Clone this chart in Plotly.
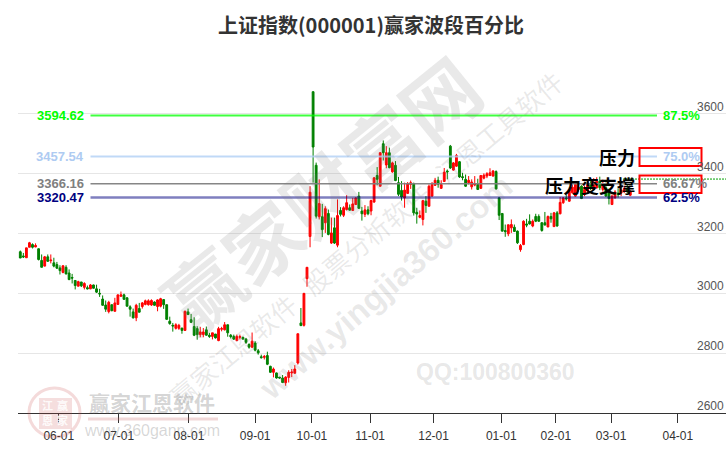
import plotly.graph_objects as go

opens = [3139,3125,3119,3154,3163,3155,3149,3110,3091,3122,
3109,3102,3096,3085,3070,3087,3068,3053,3043,3024,
3038,3020,3019,3015,3028,3015,3000,2981,2961,2939,
2962,2940,2963,2990,2995,2985,2955,2938,2918,2949,
2956,2963,2962,2961,2971,2956,2957,2979,2962,2907,
2893,2883,2883,2884,2876,2938,2912,2889,2882,2862,
2862,2878,2860,2856,2864,2842,2880,2878,2895,2860,
2856,2842,2853,2853,2847,2829,2820,2834,2808,2788,
2786,2792,2756,2736,2734,2720,2717,2701,2719,2734,
2733,2767,2901,2893,3049,3190,3674,3428,3256,3256,
3236,3267,3168,3219,3161,3277,3261,3280,3286,3277,
3297,3325,3275,3264,3279,3275,3305,3394,3358,3500,
3429,3470,3406,3428,3370,3344,3319,3334,3364,3367,
3271,3254,3247,3308,3291,3325,3361,3378,3351,3374,
3409,3492,3412,3425,3440,3390,3381,3370,3356,3362,
3364,3351,3385,3392,3394,3392,3407,3319,3267,3210,
3199,3219,3221,3208,3146,3163,3232,3241,3225,3257,
3257,3236,3236,3222,3257,3223,3269,3266,3303,3319,
3308,3336,3325,3347,3358,3330,3342,3364,3347,3353,
3375,3347,3353,3345,3297,3319,3335,3335,3340,3350,3328]

highs = [3143,3135,3152,3172,3167,3167,3150,3130,3125,3130,
3130,3119,3105,3094,3094,3094,3080,3065,3043,3042,
3038,3037,3026,3031,3029,3029,3015,2993,2976,2975,
2962,2985,2995,3006,2999,2987,2960,2949,2965,2968,
2971,2979,2980,2980,2973,2980,2985,2980,2962,2922,
2901,2900,2898,2884,2942,2949,2931,2920,2890,2888,
2884,2889,2868,2868,2864,2888,2888,2904,2895,2864,
2862,2862,2862,2855,2851,2833,2869,2840,2814,2795,
2794,2805,2758,2752,2735,2720,2727,2723,2743,2747,
2760,2865,2951,3000,3087,3358,3674,3437,3381,3299,
3291,3280,3253,3253,3314,3288,3291,3328,3297,3319,
3321,3339,3289,3295,3291,3313,3389,3422,3472,3511,
3492,3487,3440,3442,3389,3375,3370,3372,3377,3370,
3286,3277,3310,3325,3364,3372,3386,3390,3378,3419,
3414,3496,3439,3466,3442,3403,3397,3392,3381,3392,
3383,3395,3401,3405,3418,3412,3411,3322,3268,3230,
3230,3247,3230,3210,3165,3244,3249,3264,3247,3266,
3264,3238,3272,3260,3269,3272,3275,3322,3322,3330,
3349,3364,3373,3375,3361,3360,3370,3375,3385,3388,
3390,3380,3370,3350,3330,3345,3350,3355,3360,3362,3345]

lows = [3118,3118,3118,3154,3150,3154,3110,3087,3090,3105,
3100,3087,3082,3063,3067,3063,3044,3033,3013,3023,
3021,3013,3013,3014,3016,3001,2988,2959,2938,2933,
2940,2939,2962,2989,2978,2956,2922,2916,2907,2936,
2949,2960,2959,2958,2959,2940,2953,2948,2912,2895,
2872,2879,2878,2865,2875,2929,2901,2857,2845,2853,
2853,2859,2851,2846,2849,2840,2873,2876,2855,2849,
2844,2840,2846,2845,2831,2815,2817,2806,2795,2782,
2779,2760,2734,2719,2715,2715,2700,2691,2702,2720,
2731,2762,2892,2889,3022,3154,3370,3250,3247,3188,
3202,3194,3165,3165,3154,3257,3255,3277,3277,3275,
3295,3283,3243,3255,3261,3261,3303,3361,3357,3444,
3418,3418,3403,3375,3325,3310,3286,3333,3349,3260,
3233,3251,3227,3269,3291,3323,3359,3353,3349,3373,
3381,3416,3410,3423,3386,3378,3356,3364,3347,3358,
3347,3349,3381,3385,3392,3390,3347,3245,3206,3189,
3191,3202,3206,3165,3139,3161,3221,3230,3221,3238,
3239,3206,3228,3221,3236,3222,3223,3264,3299,3310,
3306,3333,3323,3340,3315,3325,3338,3345,3343,3350,
3345,3340,3323,3297,3295,3317,3320,3325,3335,3335,3325]

closes = [3118,3122,3152,3169,3154,3160,3113,3087,3122,3107,
3111,3091,3084,3076,3092,3065,3046,3051,3026,3039,
3025,3033,3015,3028,3017,3004,2998,2960,2947,2970,
2942,2968,2995,2995,2980,2957,2947,2918,2960,2937,
2968,2975,2975,2976,2960,2978,2982,2962,2913,2899,
2891,2895,2893,2876,2940,2929,2903,2860,2862,2871,
2871,2860,2856,2868,2851,2882,2882,2895,2868,2855,
2847,2856,2855,2847,2836,2820,2840,2810,2801,2785,
2789,2763,2736,2747,2717,2717,2702,2720,2736,2737,
2747,2865,2892,3000,3087,3338,3489,3258,3300,3213,
3283,3197,3202,3168,3260,3264,3286,3303,3278,3299,
3319,3284,3266,3279,3266,3310,3386,3381,3470,3470,
3470,3420,3436,3377,3331,3322,3345,3367,3370,3269,
3265,3260,3310,3294,3358,3364,3378,3365,3364,3405,
3406,3419,3436,3461,3389,3387,3358,3378,3372,3366,
3347,3394,3395,3400,3403,3409,3349,3261,3208,3206,
3229,3230,3207,3169,3160,3241,3228,3232,3241,3241,
3241,3210,3228,3257,3249,3269,3225,3304,3319,3316,
3347,3355,3364,3355,3317,3347,3364,3351,3370,3375,
3353,3364,3325,3317,3325,3339,3330,3345,3350,3340,3340]

month_ticks = [12.6, 32.3, 55.3, 77.0, 95.6, 114.7, 135.5, 157.7, 175.6, 193.7, 215.6]
month_labels = ["06-01","07-01","08-01","09-01","10-01","11-01","12-01","01-01","02-01","03-01","04-01"]
y_ticks = [2600, 2800, 3000, 3200, 3400, 3600, 3800]
y_labels = ["2600", "2800", "3000", "3200", "3400", "3600"]
level_values = [3594.62, 3457.54, 3366.16, 3320.47]
level_texts = ["3594.62", "3457.54", "3366.16", "3320.47"]
level_percents = ["87.5%", "75.0%", "66.67%", "62.5%"]
level_colors = ["#00ff00", "#aecbf2", "#808080", "#000080"]
level_lines = ["rgba(0,255,0,0.75)", "rgba(176,208,245,0.8)", "rgba(128,128,128,0.95)", "rgba(0,0,128,0.5)"]
level_widths = [2, 2, 1.5, 2.5]
last_price = 3382

W, H = 726, 450
L, R, T, B = 18, 726, 54, 413
def xp(px): return (px - L) / (R - L)
def yp(py): return (B - py) / (B - T)

days = list(range(len(closes)))
fig = go.Figure(go.Candlestick(
    x=days, open=opens, high=highs, low=lows, close=closes,
    increasing=dict(line=dict(color="#ff0000", width=1), fillcolor="#ff0000"),
    decreasing=dict(line=dict(color="#008000", width=1), fillcolor="#008000"),
    whiskerwidth=0, showlegend=False))

shapes = []
ann = []
FONT = "Noto Sans CJK SC"

def text(px, py, s, size, color, anchor="center", bold=False, angle=0, family=FONT):
    font = dict(size=size, color=color, family=family, weight=700 if bold else 400)
    ann.append(dict(xref="paper", yref="paper", x=xp(px), y=yp(py), text=s, showarrow=False,
                    xanchor=anchor, yanchor="middle", font=font, textangle=angle,
                    borderpad=0, borderwidth=0))

# watermarks
WM = "rgba(120,120,120,0.16)"
text(320, 192, "赢家财富网", 76, WM, bold=True, angle=-39)
text(365, 238, "赢家江恩软件   股票分析软件   江恩工具软件", 26, WM, angle=-40)
text(385, 287, "www.yingjia360.com", 33, WM, bold=True, angle=-41, family="Liberation Sans")
text(495, 372, "QQ:100800360", 23, "rgba(120,120,120,0.18)", bold=True, family="Liberation Sans")
text(152, 402, "赢家江恩软件", 21, "rgba(110,110,110,0.30)", bold=True)
text(152, 431, "www.360gann.com", 16, "rgba(110,110,110,0.28)", family="Liberation Sans")
shapes.append(dict(type="line", xref="paper", yref="paper", x0=xp(88), x1=xp(218), y0=yp(419), y1=yp(419),
                   line=dict(color="rgba(200,100,100,0.25)", width=3)))
shapes.append(dict(type="circle", xref="paper", yref="paper", x0=xp(29), x1=xp(80), y0=yp(388), y1=yp(437),
                   line=dict(color="rgba(200,70,70,0.2)", width=3)))
shapes.append(dict(type="rect", xref="paper", yref="paper", x0=xp(39), x1=xp(72), y0=yp(398), y1=yp(429),
                   line=dict(width=0), fillcolor="rgba(200,70,70,0.18)"))
text(47, 405, "江", 11, "rgba(255,255,255,0.9)", bold=True)
text(62, 405, "赢", 11, "rgba(255,255,255,0.9)", bold=True)
text(47, 420, "恩", 11, "rgba(255,255,255,0.9)", bold=True)
text(62, 420, "家", 11, "rgba(255,255,255,0.9)", bold=True)

# levels
for v, t, p, c, lc, w in zip(level_values, level_texts, level_percents, level_colors, level_lines, level_widths):
    shapes.append(dict(type="line", xref="paper", yref="y", x0=xp(90.5), x1=xp(657), y0=v, y1=v,
                       line=dict(color=lc, width=w)))
    ann.append(dict(xref="paper", yref="y", x=xp(85.5), y=v, text=t, showarrow=False, xanchor="right",
                    yanchor="middle", font=dict(size=13, color=c, family="Liberation Sans", weight=700)))
    ann.append(dict(xref="paper", yref="y", x=xp(661), y=v, text=p, showarrow=False, xanchor="left",
                    yanchor="middle", font=dict(size=13, color=c, family="Liberation Sans", weight=700)))

shapes.append(dict(type="line", xref="paper", yref="y", x0=xp(623), x1=xp(726), y0=last_price, y1=last_price,
                   line=dict(color="#00a000", width=1, dash="2px,1px")))
for y0, y1 in ((148, 166), (175.5, 193)):
    shapes.append(dict(type="rect", xref="paper", yref="paper", x0=xp(639.5), x1=xp(701.5), y0=yp(y0), y1=yp(y1),
                       line=dict(color="#ff0000", width=2)))
text(635, 157, "压力", 18, "#000000", anchor="right", bold=True)
text(635, 185, "压力变支撑", 18, "#000000", anchor="right", bold=True)

# y labels sit above their gridlines
for v, s in zip(y_ticks, y_labels):
    ann.append(dict(xref="paper", yref="y", x=1, y=v, text=s, showarrow=False, xanchor="right", yanchor="middle",
                    yshift=7, font=dict(size=12, color="#555555", family="Liberation Sans")))

fig.update_layout(
    width=W, height=H, autosize=False, boxgap=0.15,
    margin=dict(l=L, r=W - R, t=T, b=H - B, pad=0),
    paper_bgcolor="white", plot_bgcolor="white",
    title=dict(text="上证指数(000001)赢家波段百分比", x=371 / W, xanchor="center", y=1 - 26 / H, yanchor="middle",
               font=dict(size=20, color="#333333", family=FONT, weight=700)),
    xaxis=dict(range=[-0.754, 231.38], tickmode="array", tickvals=month_ticks, ticktext=month_labels,
               showgrid=False, zeroline=False, showline=True, linecolor="#333333", linewidth=1,
               ticks="outside", ticklen=9, tickcolor="#333333", tickwidth=1, ticklabelstandoff=3,
               tickfont=dict(size=12, color="#333333", family="Liberation Sans"),
               rangeslider=dict(visible=False)),
    yaxis=dict(range=[2600, 3800], tickmode="array", tickvals=y_ticks, showticklabels=False,
               showgrid=True, gridcolor="#e6e6e6", gridwidth=1, zeroline=False, showline=False, ticks=""),
    shapes=shapes, annotations=ann,
)
fig.write_html("out.html", config={"displayModeBar": False}, post_script="document.body.style.margin='0';")
